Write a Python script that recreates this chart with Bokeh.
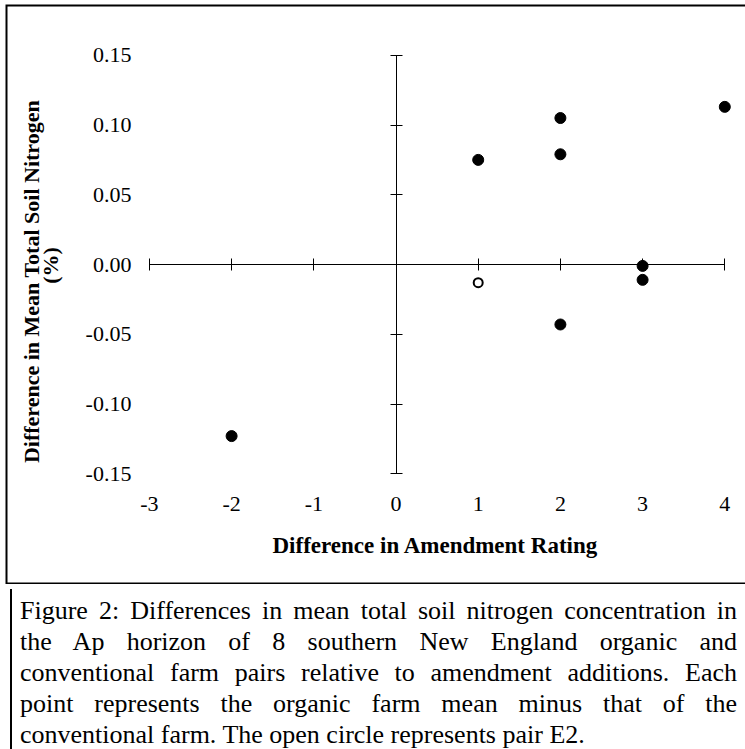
import math
from bokeh.plotting import figure
from bokeh.models import (Range1d, LinearAxis, FixedTicker, NumeralTickFormatter, Label, Div)
from bokeh.layouts import column
from bokeh.embed import file_html
from bokeh.resources import INLINE

# ---- data ----
x_ticks = [-3, -2, -1, 0, 1, 2, 3, 4]
y_ticks = [-0.15, -0.10, -0.05, 0.0, 0.05, 0.10, 0.15]

filled_x = [-2, 1, 2, 2, 2, 3, 3, 4]
filled_y = [-0.123, 0.075, 0.105, 0.079, -0.043, -0.001, -0.011, 0.113]
open_x = [1]
open_y = [-0.013]

x_title = "Difference in Amendment Rating"
y_title = "Difference in Mean Total Soil Nitrogen"
y_title_unit = "(%)"
caption_lines = [
    "Figure 2: Differences in mean total soil nitrogen concentration in",
    "the Ap horizon of 8 southern New England organic and",
    "conventional farm pairs relative to amendment additions. Each",
    "point represents the organic farm mean minus that of the",
    "conventional farm. The open circle represents pair E2.",
]

FONT = "Liberation Serif"

# ---- geometry (pixels) ----
W, H = 745, 584
BOX_L, BOX_T, BOX_B = 6, 5, 583
PX_PER_X, X0_PX = 82.2, 395.5
PX_PER_Y, Y0_PX = 1395.0, 264.0


def dx(px):
    return (px - X0_PX) / PX_PER_X


def dy(py):
    return (Y0_PX - py) / PX_PER_Y


p = figure(width=W, height=H,
           x_range=Range1d(dx(0), dx(W)), y_range=Range1d(dy(H), dy(0)),
           x_axis_location=None, y_axis_location=None,
           min_border_left=0, min_border_right=0,
           min_border_top=0, min_border_bottom=0,
           output_backend="svg", toolbar_location=None)
p.grid.grid_line_color = None
p.outline_line_color = None
p.background_fill_color = "white"
p.border_fill_color = "white"

# outer box of the figure panel (its right side runs off the page, as in the reference)
p.line(x=[dx(W + 20), dx(BOX_L), dx(BOX_L), dx(W + 20)],
       y=[dy(BOX_T), dy(BOX_T), dy(BOX_B), dy(BOX_B)],
       line_color="black", line_width=2, line_join="miter")

# crossing axis lines at zero
ax_x = LinearAxis(fixed_location=0, bounds=(min(x_ticks), max(x_ticks)),
                  ticker=FixedTicker(ticks=x_ticks),
                  major_tick_in=6, major_tick_out=6,
                  minor_tick_line_color=None,
                  axis_line_color="black", major_tick_line_color="black",
                  major_label_text_color=None)
p.add_layout(ax_x, "below")
ax_y = LinearAxis(fixed_location=0, bounds=(min(y_ticks), max(y_ticks)),
                  ticker=FixedTicker(ticks=y_ticks),
                  major_tick_in=6, major_tick_out=6,
                  minor_tick_line_color=None,
                  axis_line_color="black", major_tick_line_color="black",
                  major_label_text_color=None)
p.add_layout(ax_y, "left")

# tick labels at the outer edges
lab_x = LinearAxis(fixed_location=min(y_ticks), ticker=FixedTicker(ticks=x_ticks),
                   formatter=NumeralTickFormatter(format="0"),
                   axis_line_color=None, major_tick_line_color=None,
                   minor_tick_line_color=None, major_tick_in=0, major_tick_out=0,
                   major_label_standoff=23, major_label_text_font=FONT,
                   major_label_text_font_size="22px", major_label_text_color="black")
p.add_layout(lab_x, "below")
lab_y = LinearAxis(fixed_location=min(x_ticks), ticker=FixedTicker(ticks=y_ticks),
                   formatter=NumeralTickFormatter(format="0.00"),
                   axis_line_color=None, major_tick_line_color=None,
                   minor_tick_line_color=None, major_tick_in=0, major_tick_out=0,
                   major_label_standoff=18, major_label_text_font=FONT,
                   major_label_text_font_size="22px", major_label_text_color="black")
p.add_layout(lab_y, "left")

p.scatter(filled_x, filled_y, size=11, fill_color="black", line_color="black", line_width=1)
p.scatter(open_x, open_y, size=9, fill_color="white", line_color="black", line_width=2)

p.add_layout(Label(x=dx(435), y=dy(545), text=x_title, text_align="center",
                   text_baseline="middle", text_font=FONT, text_font_style="bold",
                   text_font_size="23px", text_color="black"))
p.add_layout(Label(x=dx(31), y=dy(281), text=y_title, angle=math.pi / 2,
                   text_align="center", text_baseline="middle", text_font=FONT,
                   text_font_style="bold", text_font_size="22px", text_color="black"))
p.add_layout(Label(x=dx(50), y=dy(265), text=y_title_unit, angle=math.pi / 2,
                   text_align="center", text_baseline="middle", text_font=FONT,
                   text_font_style="bold", text_font_size="22px", text_color="black"))

rows = []
for i, line in enumerate(caption_lines):
    last = i == len(caption_lines) - 1
    style = "white-space:nowrap;" if last else "text-align:justify;text-align-last:justify;"
    rows.append('<div style="%s">%s</div>' % (style, line))
html = ('<div style="margin-left:5px;width:740px;border-left:2px solid #000;height:165px;'
        'box-sizing:border-box;padding:6px 13px 0 8px;font-family:\'Liberation Serif\',serif;'
        'font-size:26px;line-height:31px;color:#000;background:#fff;">' + "".join(rows) + '</div>')
cap = Div(text=html, width=W, height=165)

layout = column(p, cap, spacing=0)
open("out.html", "w").write(file_html(layout, INLINE))
